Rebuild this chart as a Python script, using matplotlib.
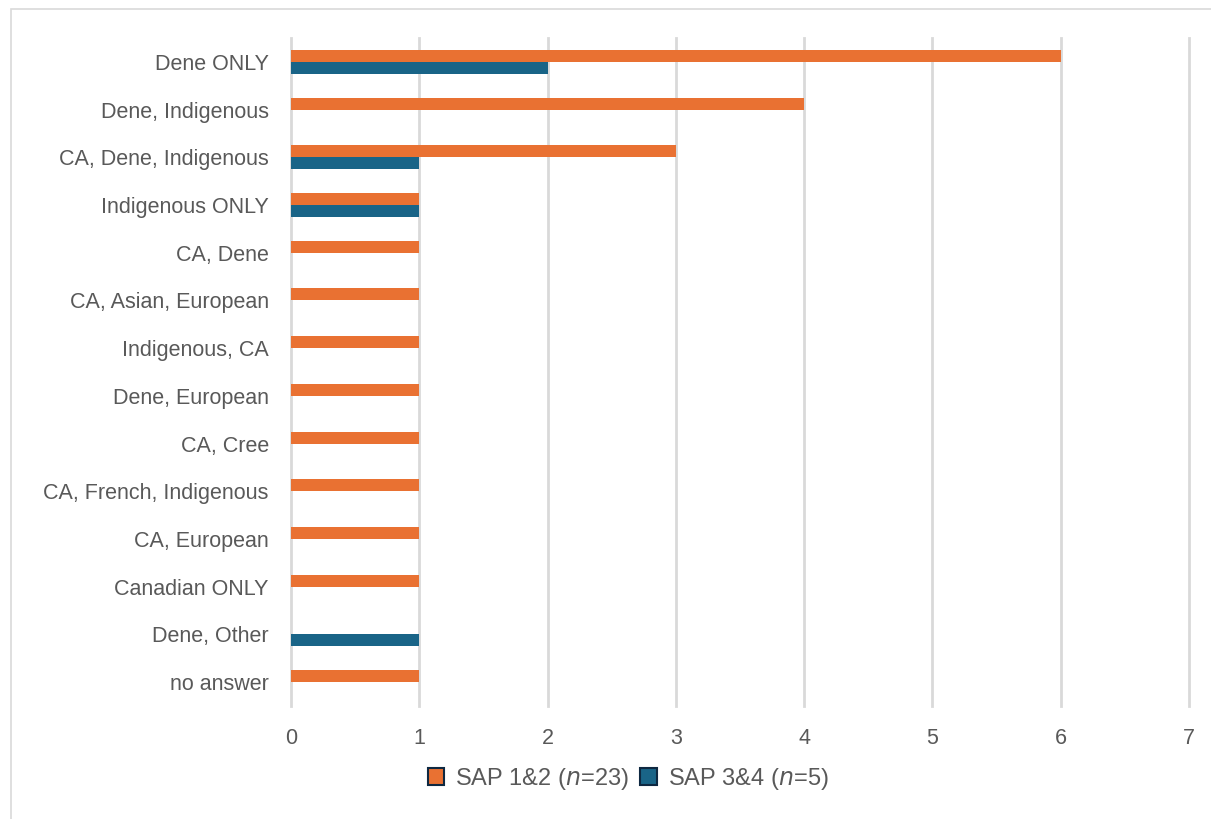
import matplotlib.pyplot as plt
import matplotlib.patches as mpatches
import numpy as np

categories = [
    "Dene ONLY", "Dene, Indigenous", "CA, Dene, Indigenous", "Indigenous ONLY",
    "CA, Dene", "CA, Asian, European", "Indigenous, CA", "Dene, European",
    "CA, Cree", "CA, French, Indigenous", "CA, European", "Canadian ONLY",
    "Dene, Other", "no answer",
]
sap_12 = [6, 4, 3, 1, 1, 1, 1, 1, 1, 1, 1, 1, 0, 1]
sap_34 = [2, 0, 1, 1, 0, 0, 0, 0, 0, 0, 0, 0, 1, 0]

ORANGE = "#E97132"
BLUE = "#196487"
TEXT = "#595959"
FS = 15.5

plt.rcParams["font.family"] = ["Liberation Sans", "DejaVu Sans"]

fig = plt.figure(figsize=(12.11, 8.19), dpi=100)
ax = fig.add_axes([0.2403, 0.138, 0.7415, 0.8156])

y = np.arange(len(categories))
h = 0.25
ax.barh(y - h / 2, sap_12, height=h, color=ORANGE, zorder=3)
ax.barh(y + h / 2, sap_34, height=h, color=BLUE, zorder=3)

ax.set_ylim(len(categories) - 0.5, -0.5)
ax.set_xlim(0, 7)
ax.set_yticks(y)
ax.set_yticklabels(categories)
ax.set_xticks(range(8))
ax.tick_params(axis="both", length=0, labelsize=FS, labelcolor=TEXT)
ax.tick_params(axis="y", pad=16)
ax.tick_params(axis="x", pad=16)
ax.grid(axis="x", color="#D9D9D9", linewidth=2, zorder=0)
for gl in ax.get_xgridlines():
    gl.set_clip_on(False)
for s in ax.spines.values():
    s.set_visible(False)

handles = [
    mpatches.Patch(facecolor=ORANGE, edgecolor="#0E2841", linewidth=1.5),
    mpatches.Patch(facecolor=BLUE, edgecolor="#0E2841", linewidth=1.5),
]
labels = ["SAP 1&2 ($\\it{n}$=23)", "SAP 3&4 ($\\it{n}$=5)"]
fig.legend(handles, labels, loc="center", bbox_to_anchor=(628 / 1211, 1 - 779 / 819),
           ncol=2, frameon=False, fontsize=17, labelcolor=TEXT,
           handlelength=0.7, handleheight=0.7, handletextpad=0.45, columnspacing=0.5)

# outer chart border
fig.patches.append(mpatches.Rectangle((11 / 1211, -0.1), 1.1, 1 - 9 / 819 + 0.1,
                                      transform=fig.transFigure, fill=False,
                                      edgecolor="#D9D9D9", linewidth=1.2))

fig.savefig("out.png", dpi=100)
